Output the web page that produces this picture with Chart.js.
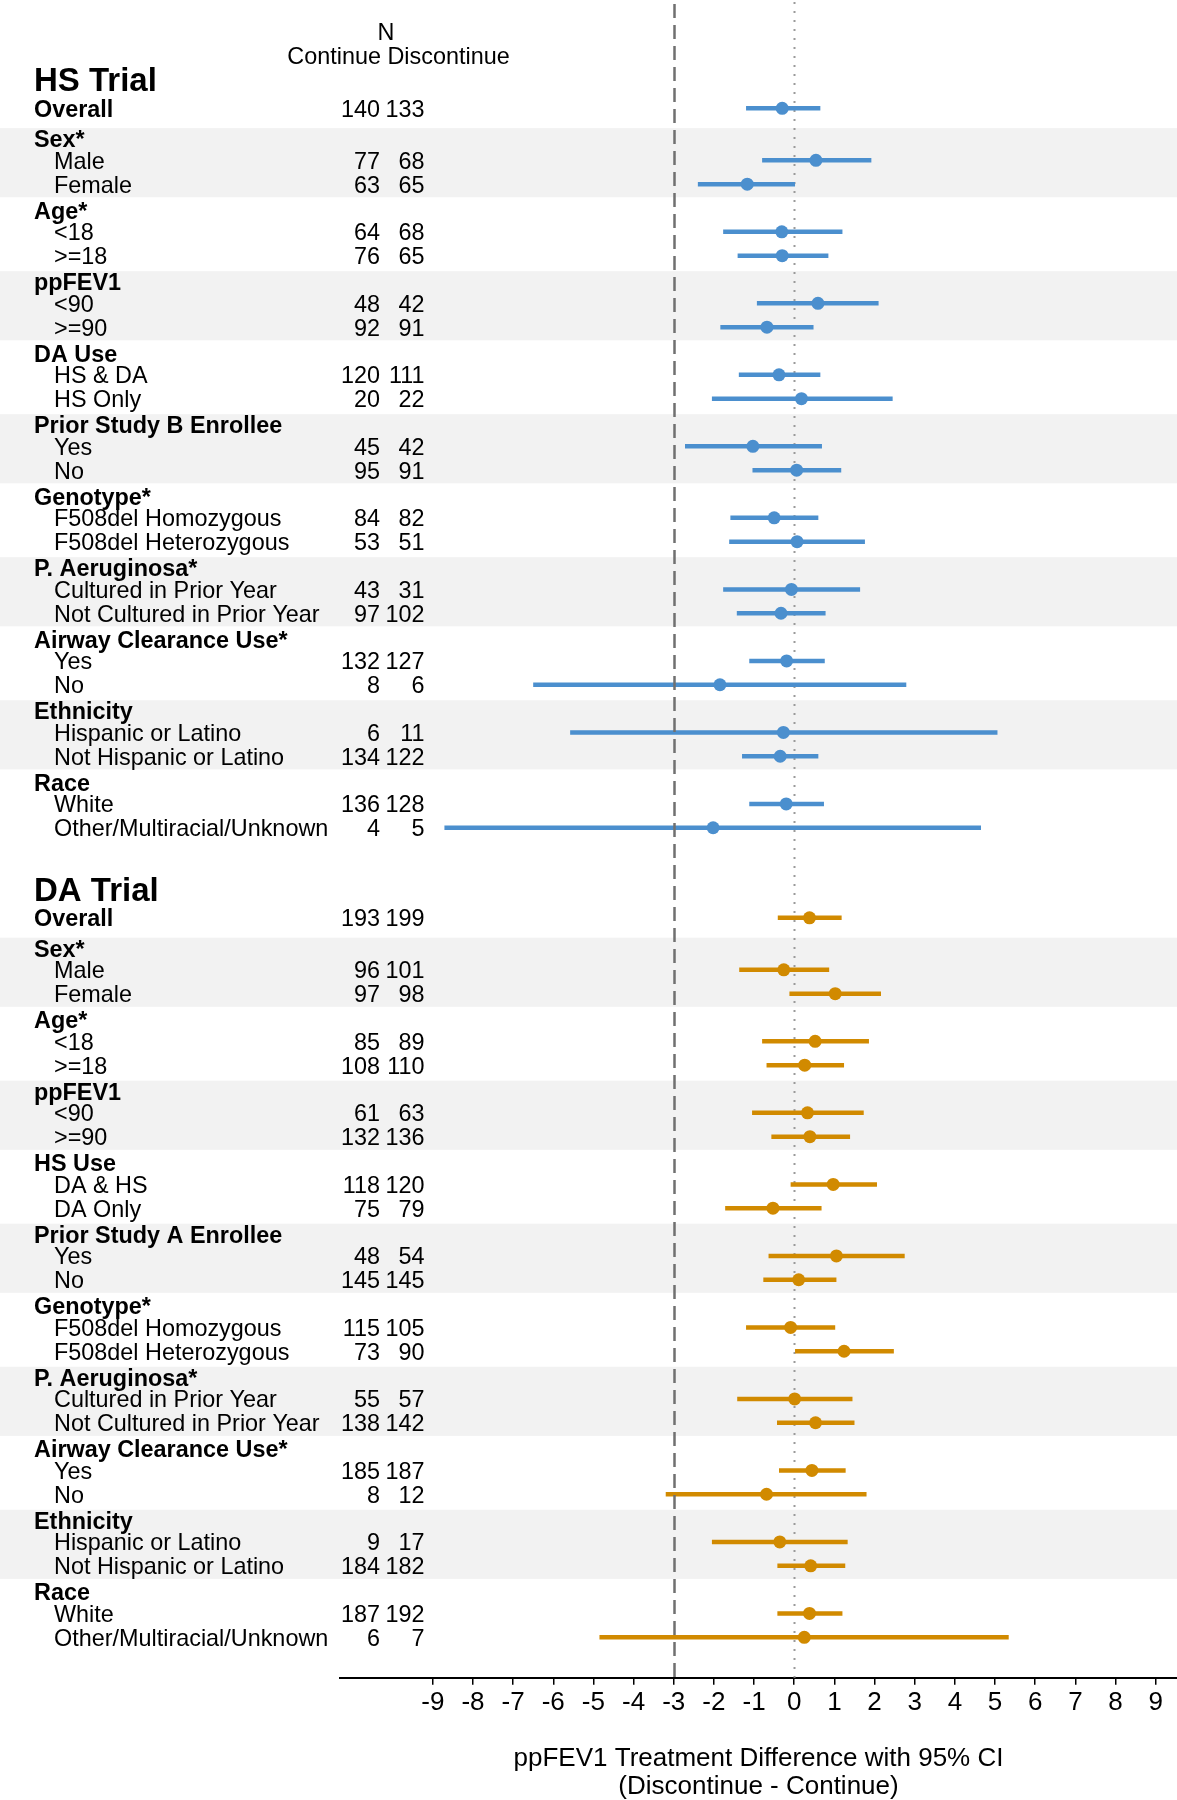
<!DOCTYPE html>
<html>
<head>
<meta charset="utf-8">
<script src="https://cdn.jsdelivr.net/npm/chart.js@4.4.1/dist/chart.umd.min.js"></script>
<style>
html,body{margin:0;padding:0;background:#fff}
canvas{display:block}
</style>
</head>
<body>
<canvas id="forest" width="1177" height="1800"></canvas>
<script>
// x axis ticks
const xTicks=[-9,-8,-7,-6,-5,-4,-3,-2,-1,0,1,2,3,4,5,6,7,8,9];

// HS trial
const hsGroups=["Sex*","Age*","ppFEV1","DA Use","Prior Study B Enrollee","Genotype*","P. Aeruginosa*","Airway Clearance Use*","Ethnicity","Race"];
const hsLabels=["Overall","Male","Female","<18",">=18","<90",">=90","HS & DA","HS Only","Yes","No",
  "F508del Homozygous","F508del Heterozygous","Cultured in Prior Year","Not Cultured in Prior Year",
  "Yes","No","Hispanic or Latino","Not Hispanic or Latino","White","Other/Multiracial/Unknown"];
const hsCont=[140,77,63,64,76,48,92,120,20,45,95,84,53,43,97,132,8,6,134,136,4];
const hsDisc=[133,68,65,68,65,42,91,111,22,42,91,82,51,31,102,127,6,11,122,128,5];
const hsEst =[-0.30,0.54,-1.17,-0.31,-0.30,0.59,-0.68,-0.38,0.18,-1.03,0.06,-0.50,0.07,-0.07,-0.33,-0.19,-1.85,-0.27,-0.35,-0.20,-2.02];
const hsLow =[-1.20,-0.80,-2.40,-1.77,-1.41,-0.93,-1.84,-1.38,-2.05,-2.72,-1.04,-1.59,-1.62,-1.77,-1.43,-1.12,-6.50,-5.58,-1.30,-1.12,-8.71];
const hsHigh=[0.65,1.92,0.02,1.20,0.85,2.10,0.48,0.65,2.45,0.69,1.17,0.60,1.76,1.64,0.78,0.76,2.79,5.06,0.60,0.74,4.65];

// DA trial
const daGroups=["Sex*","Age*","ppFEV1","HS Use","Prior Study A Enrollee","Genotype*","P. Aeruginosa*","Airway Clearance Use*","Ethnicity","Race"];
const daLabels=["Overall","Male","Female","<18",">=18","<90",">=90","DA & HS","DA Only","Yes","No",
  "F508del Homozygous","F508del Heterozygous","Cultured in Prior Year","Not Cultured in Prior Year",
  "Yes","No","Hispanic or Latino","Not Hispanic or Latino","White","Other/Multiracial/Unknown"];
const daCont=[193,96,97,85,108,61,132,118,75,48,145,115,73,55,138,185,8,9,184,187,6];
const daDisc=[199,101,98,89,110,63,136,120,79,54,145,105,90,57,142,187,12,17,182,192,7];
const daEst =[0.38,-0.26,1.02,0.52,0.26,0.33,0.39,0.97,-0.53,1.05,0.11,-0.09,1.24,0.01,0.53,0.44,-0.69,-0.36,0.41,0.38,0.25];
const daLow =[-0.41,-1.37,-0.12,-0.80,-0.69,-1.05,-0.57,-0.09,-1.72,-0.64,-0.77,-1.20,0.02,-1.42,-0.43,-0.38,-3.20,-2.05,-0.42,-0.42,-4.85];
const daHigh=[1.18,0.87,2.16,1.86,1.24,1.73,1.39,2.06,0.68,2.75,1.05,1.02,2.48,1.45,1.50,1.28,1.80,1.33,1.27,1.20,5.34];

const BLUE="#4b8fce",ORANGE="#d18a00",BAND="#f2f2f2";
const FONT='"Liberation Sans", Arial, sans-serif';
const FS=23.4;
Chart.defaults.font.family=FONT;
Chart.defaults.color="#000";

// rows are laid out in row units on the y scale (0 = top)
function buildTrial(title,groups,labels,cont,disc,est,low,high,y0){
  const t={title,titleY:y0-1.22,rows:[],heads:[],bands:[]};
  t.rows.push({i:0,y:y0,bold:true});
  groups.forEach((g,k)=>{
    const hy=y0+1.18+3*k;
    t.heads.push({label:g,y:hy+0.1});
    if(k%2===0)t.bands.push([hy-0.35,hy+2.55]);
    t.rows.push({i:1+2*k,y:hy+1,bold:false},{i:2+2*k,y:hy+2,bold:false});
  });
  t.rows.forEach(r=>{r.label=labels[r.i];r.c=cont[r.i];r.d=disc[r.i];r.est=est[r.i];r.lo=low[r.i];r.hi=high[r.i]});
  t.lastY=y0+1.18+3*(groups.length-1)+2;
  return t;
}
const hs=buildTrial("HS Trial",hsGroups,hsLabels,hsCont,hsDisc,hsEst,hsLow,hsHigh,4.545);
const da=buildTrial("DA Trial",daGroups,daLabels,daCont,daDisc,daEst,daLow,daHigh,hs.lastY+3.78);
const trials=[hs,da];

const bars=t=>t.rows.flatMap(r=>[{x:r.lo,y:r.y},{x:r.hi,y:r.y},{x:null,y:null}]);
const pts=t=>t.rows.map(r=>({x:r.est,y:r.y}));

function txt(ctx,s,x,y,size,bold,align){
  ctx.font=(bold?"bold ":"")+size+"px "+FONT;
  ctx.textAlign=align||"left";
  ctx.textBaseline="alphabetic";
  ctx.fillStyle="#000";
  ctx.fillText(s,x,y+size*0.358);
}

const bandPlugin={id:"bands",beforeDraw(chart){
  const {ctx,scales:{y}}=chart;
  ctx.save();ctx.fillStyle=BAND;
  trials.forEach(t=>t.bands.forEach(([a,b])=>{
    const p1=y.getPixelForValue(a),p2=y.getPixelForValue(b);
    ctx.fillRect(0,p1,chart.width,p2-p1);
  }));
  ctx.restore();
}};

const refLines={id:"refLines",
  beforeDatasetsDraw(chart){
    const {ctx,chartArea:a,scales:{x}}=chart;
    const px=Math.round(x.getPixelForValue(0))+0.5;
    ctx.save();ctx.strokeStyle="#9a9a9a";ctx.lineWidth=2;ctx.setLineDash([2,7]);
    ctx.beginPath();ctx.moveTo(px,a.top+2);ctx.lineTo(px,a.bottom);ctx.stroke();ctx.restore();
  },
  afterDatasetsDraw(chart){
    const {ctx,chartArea:a,scales:{x}}=chart;
    const px=Math.round(x.getPixelForValue(-3))+0.5;
    ctx.save();ctx.strokeStyle="#707070";ctx.lineWidth=2.5;ctx.setLineDash([14,7]);
    ctx.beginPath();ctx.moveTo(px,a.top+4);ctx.lineTo(px,a.bottom);ctx.stroke();ctx.restore();
  }
};

const tablePlugin={id:"table",afterDraw(chart){
  const {ctx,scales:{y}}=chart;
  const Y=v=>y.getPixelForValue(v);
  ctx.save();
  txt(ctx,"N",386,Y(1.33),FS,false,"center");
  txt(ctx,"Continue Discontinue",398.5,Y(2.35),FS,false,"center");
  trials.forEach(t=>{
    txt(ctx,t.title,34,Y(t.titleY),33,true);
    t.heads.forEach(h=>txt(ctx,h.label,34,Y(h.y),FS,true));
    t.rows.forEach(r=>{
      const py=Y(r.y);
      txt(ctx,r.label,r.bold?34:54,py,FS,r.bold);
      txt(ctx,String(r.c),380,py,FS,false,"right");
      txt(ctx,String(r.d),424.5,py,FS,false,"right");
    });
  });
  ctx.restore();
}};

const lineSet=(t,c)=>({type:"line",data:bars(t),borderColor:c,borderWidth:4.5,borderCapStyle:"butt",
  pointRadius:0,pointHoverRadius:0,spanGaps:false,fill:false,tension:0,order:2});
const pointSet=(t,c)=>({type:"scatter",data:pts(t),backgroundColor:c,borderColor:c,borderWidth:0,
  pointRadius:6.5,pointHoverRadius:6.5,order:1});

new Chart(document.getElementById("forest"),{
  type:"scatter",
  data:{datasets:[lineSet(hs,BLUE),lineSet(da,ORANGE),pointSet(hs,BLUE),pointSet(da,ORANGE)]},
  options:{
    responsive:false,animation:false,events:[],
    layout:{autoPadding:false,padding:{left:340,right:0,top:0,bottom:0}},
    plugins:{legend:{display:false},tooltip:{enabled:false}},
    scales:{
      x:{type:"linear",min:-11.31,max:9.53,
        afterBuildTicks:s=>{s.ticks=xTicks.map(v=>({value:v}))},
        ticks:{autoSkip:false,maxRotation:0,padding:3,color:"#000",font:{size:26},callback:v=>String(v)},
        grid:{drawOnChartArea:false,drawTicks:true,tickLength:7,color:"#000",lineWidth:1.5},
        border:{display:true,color:"#000",width:2},
        title:{display:true,text:["ppFEV1 Treatment Difference with 95% CI","(Discontinue - Continue)"],
          color:"#000",font:{size:26,lineHeight:1.05},padding:{top:23.5,bottom:0}}
      },
      y:{type:"linear",reverse:true,min:0,max:70.38,display:false}
    }
  },
  plugins:[bandPlugin,refLines,tablePlugin]
});
</script>
</body>
</html>
